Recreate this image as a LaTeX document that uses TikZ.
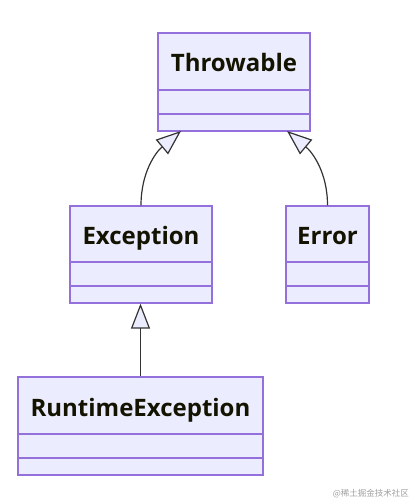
\documentclass[tikz,border=0pt]{standalone}
\usepackage{fontspec}
\setmainfont{Open Sans}
\newfontfamily\cjk{Noto Sans CJK SC}
\usetikzlibrary{arrows.meta}
\definecolor{clsfill}{HTML}{ECECFF}
\definecolor{clsborder}{HTML}{9370DB}
\definecolor{edgecol}{HTML}{333333}
\definecolor{txt}{HTML}{131300}
\definecolor{wmcol}{HTML}{A0A0A0}
\tikzset{
  cls/.style={draw=clsborder, fill=clsfill, line width=1.2pt, rectangle, inner sep=0pt},
  divider/.style={draw=clsborder, line width=1.2pt},
  lbl/.style={font=\bfseries\fontsize{24}{28}\selectfont, text=txt, inner sep=0pt, anchor=base},
  edge/.style={draw=edgecol, line width=1.2pt},
  ext/.style={-{Triangle[length=25pt,width=19pt,fill=clsfill]}}
}
\begin{document}
\begin{tikzpicture}[x=1pt,y=1pt]
\useasboundingbox (0,0) rectangle (414,502);
% Throwable
\node[cls, minimum width=152pt, minimum height=98pt] (thr) at (234,420) {};
\draw[divider] (158,412) -- (310,412);
\draw[divider] (158,388) -- (310,388);
\node[lbl] (thrl) at (234,430.5) {Throwable};
% Exception
\node[cls, minimum width=142pt, minimum height=97pt] (exc) at (141,247.5) {};
\draw[divider] (70,240) -- (212,240);
\draw[divider] (70,216) -- (212,216);
\node[lbl] (excl) at (141,257.5) {Exception};
% Error
\node[cls, minimum width=83pt, minimum height=97pt] (err) at (327.5,247.5) {};
\draw[divider] (286,240) -- (369,240);
\draw[divider] (286,216) -- (369,216);
\node[lbl] (errl) at (327.5,257.5) {Error};
% RuntimeException
\node[cls, minimum width=245pt, minimum height=98pt] (rt) at (140.5,76) {};
\draw[divider] (18,68) -- (263,68);
\draw[divider] (18,44) -- (263,44);
\node[lbl] (rtl) at (140.5,85.5) {RuntimeException};
% edges
\coordinate (t1) at (181,371);
\coordinate (t2) at (287,371);
\draw[edge, ext] (exc.north) to[out=90,in=220] (t1);
\draw[edge, ext] (err.north) to[out=90,in=-40] (t2);
\draw[edge, ext] (rt.north) -- (rt.north |- exc.south);
% watermark
\node[font=\cjk\fontsize{8.5}{10}\selectfont, text=wmcol, anchor=east, inner sep=0pt] (wm) at (409,8) {@稀土掘金技术社区};
\end{tikzpicture}
\end{document}
